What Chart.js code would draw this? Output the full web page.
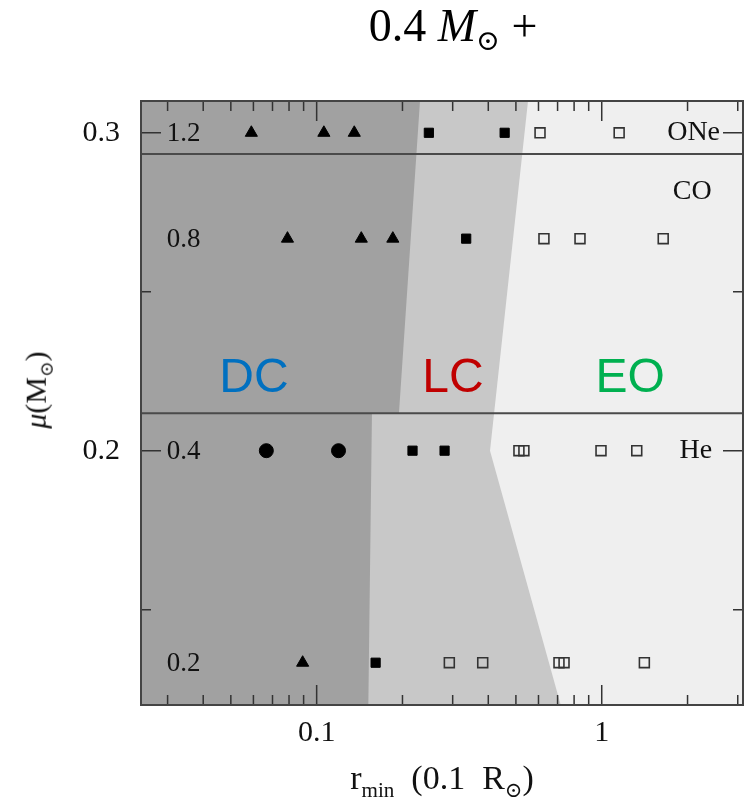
<!DOCTYPE html>
<html>
<head>
<meta charset="utf-8">
<script src="https://cdn.jsdelivr.net/npm/chart.js@4.4.1/dist/chart.umd.min.js"></script>
<style>
  body { margin: 0; background: #fff; }
  #wrap { position: relative; width: 745px; height: 805px; }
  #chart { position: absolute; left: 0; top: 0; }
  .lbl { position: absolute; font-family: 'Liberation Serif', 'DejaVu Serif', serif; color: #111; white-space: nowrap; transform: translate(-50%, -50%); }
  .lbl sub { font-size: 0.62em; vertical-align: -0.35em; }
  #title { left: 453px; top: 28px; font-size: 46px; color: #000; }
  #xTitle { left: 442px; top: 781px; font-size: 34px; }
  #yTitle { left: 38px; top: 390px; font-size: 30px; transform: translate(-50%, -50%) rotate(-90deg); }
</style>
</head>
<body>
<div id="wrap">
  <canvas id="chart" width="745" height="805"></canvas>
  <div class="lbl" id="title">0.4 <i>M</i><sub>⊙</sub> +</div>
  <div class="lbl" id="xTitle">r<sub>min</sub>&nbsp;&nbsp;(0.1&nbsp;&nbsp;R<sub>⊙</sub>)</div>
  <div class="lbl" id="yTitle"><i>μ</i>(M<sub>⊙</sub>)</div>
</div>
<script>
// axis ranges and ticks
const xMin = 0.0242, xMax = 3.13;
const yMin = 0.12, yMax = 0.31;
const xTicks = [0.03, 0.04, 0.05, 0.06, 0.07, 0.08, 0.09, 0.1, 0.2, 0.3, 0.4, 0.5, 0.6, 0.7, 0.8, 0.9, 1, 2, 3];
const xMajor = [0.1, 1];
const yTicks = [0.15, 0.2, 0.25, 0.3];
const yMajor = [0.2, 0.3];

// companion mass rows (mu in Msun)
const rowMu = [0.3, 0.2667, 0.2, 0.1333];
const rowLabels = ['1.2', '0.8', '0.4', '0.2'];
const coreLabels = ['ONe', 'CO', 'He'];
const coreLabelX = [2.6, 2.43, 2.44];
const coreLabelY = [0.3, 0.2814, 0.2];
const dividerMu = [0.2933, 0.2118];

// region boundaries
const dcX = [xMin, 0.2304, 0.1944, 0.1563, 0.1518, xMin];
const dcY = [yMax, yMax, 0.2118, 0.2118, yMin, yMin];
const lcX = [xMin, 0.5513, 0.4056, 0.718, xMin];
const lcY = [yMax, yMax, 0.2, yMin, yMin];
const regionNames = ['DC', 'LC', 'EO'];
const regionX = [0.0603, 0.3008, 1.257];
const regionY = 0.2233;
const regionColors = ['#0070c0', '#c00000', '#00b050'];

// simulation outcomes
const triX = [0.059, 0.106, 0.1355, 0.079, 0.1434, 0.185, 0.0893];
const triY = [0.3, 0.3, 0.3, 0.2667, 0.2667, 0.2667, 0.1333];
const fillSqX = [0.2475, 0.4565, 0.3346, 0.2169, 0.281, 0.161];
const fillSqY = [0.3, 0.3, 0.2667, 0.2, 0.2, 0.1333];
const openSqX = [0.6075, 1.151, 0.627, 0.839, 1.643, 0.5123, 0.5333, 0.994, 1.327, 0.292, 0.3824, 0.708, 0.7376, 1.411];
const openSqY = [0.3, 0.3, 0.2667, 0.2667, 0.2667, 0.2, 0.2, 0.2, 0.2, 0.1333, 0.1333, 0.1333, 0.1333, 0.1333];
const circX = [0.0666, 0.1193];
const circY = [0.2, 0.2];

const pts = (xs, ys) => xs.map((x, i) => ({ x: x, y: ys[i] }));
const serif = "'Liberation Serif', 'DejaVu Serif', serif";

const markers = (xs, ys, style, r, fill, border, bw) => ({
    data: pts(xs, ys),
    showLine: false,
    pointStyle: style,
    pointRadius: r,
    pointBackgroundColor: fill,
    pointBorderColor: border,
    pointBorderWidth: bw
});

const divider = mu => ({
    data: [{ x: xMin, y: mu }, { x: xMax, y: mu }],
    borderColor: '#4a4a4a',
    borderWidth: 2,
    pointRadius: 0
});

const region = (xs, ys, color) => ({
    data: pts(xs, ys),
    borderColor: 'rgba(0,0,0,0)',
    borderWidth: 0,
    pointRadius: 0,
    backgroundColor: color,
    fill: 'shape'
});

const frame = {
    id: 'frame',
    beforeDraw(chart) {
        const a = chart.chartArea, ctx = chart.ctx;
        ctx.save();
        ctx.fillStyle = '#efefef';
        ctx.fillRect(a.left, a.top, a.right - a.left, a.bottom - a.top);
        ctx.restore();
    },
    afterDatasetsDraw(chart) {
        const a = chart.chartArea, ctx = chart.ctx;
        const xs = chart.scales.x, ys = chart.scales.y;
        ctx.save();
        ctx.strokeStyle = '#333';
        ctx.lineWidth = 1.5;
        ctx.beginPath();
        xTicks.forEach(v => {
            const p = xs.getPixelForValue(v);
            const len = xMajor.includes(v) ? 20 : 10;
            ctx.moveTo(p, a.bottom); ctx.lineTo(p, a.bottom - len);
            ctx.moveTo(p, a.top); ctx.lineTo(p, a.top + len);
        });
        yTicks.forEach(v => {
            const p = ys.getPixelForValue(v);
            const len = yMajor.includes(v) ? 20 : 10;
            ctx.moveTo(a.left, p); ctx.lineTo(a.left + len, p);
            ctx.moveTo(a.right, p); ctx.lineTo(a.right - len, p);
        });
        ctx.stroke();
        ctx.lineWidth = 2;
        ctx.strokeStyle = '#444';
        ctx.strokeRect(a.left, a.top, a.right - a.left, a.bottom - a.top);

        ctx.fillStyle = '#111';
        ctx.textBaseline = 'middle';
        ctx.font = '27px ' + serif;
        ctx.textAlign = 'left';
        rowLabels.forEach((t, i) => {
            ctx.fillText(t, xs.getPixelForValue(0.0298), ys.getPixelForValue(rowMu[i]) + 1);
        });
        ctx.font = '28px ' + serif;
        ctx.textAlign = 'right';
        coreLabels.forEach((t, i) => {
            ctx.fillText(t, xs.getPixelForValue(coreLabelX[i]), ys.getPixelForValue(coreLabelY[i]));
        });
        ctx.font = "48px 'Liberation Sans', Arial, sans-serif";
        ctx.textAlign = 'center';
        regionNames.forEach((t, i) => {
            ctx.fillStyle = regionColors[i];
            ctx.fillText(t, xs.getPixelForValue(regionX[i]), ys.getPixelForValue(regionY) + 2);
        });
        ctx.restore();
    }
};

new Chart(document.getElementById('chart'), {
    type: 'line',
    data: {
        datasets: [
            markers(circX, circY, 'circle', 7, '#000', '#000', 1),
            markers(openSqX, openSqY, 'rect', 7, 'rgba(0,0,0,0)', '#333', 1.6),
            markers(fillSqX, fillSqY, 'rect', 6.5, '#000', '#000', 1),
            markers(triX, triY, 'triangle', 7, '#000', '#000', 1),
            divider(dividerMu[0]),
            divider(dividerMu[1]),
            region(dcX, dcY, '#a1a1a1'),
            region(lcX, lcY, '#c8c8c8')
        ]
    },
    options: {
        responsive: false,
        animation: false,
        events: [],
        layout: { autoPadding: false, padding: { top: 101, right: 2, left: 0, bottom: 0 } },
        plugins: { legend: { display: false }, tooltip: { enabled: false } },
        scales: {
            x: {
                type: 'logarithmic',
                min: xMin,
                max: xMax,
                grid: { display: false, drawTicks: false },
                border: { display: false },
                afterBuildTicks: s => { s.ticks = xTicks.map(v => ({ value: v })); },
                afterFit: s => { s.height = 100; s.paddingLeft = 0; s.paddingRight = 0; },
                ticks: {
                    autoSkip: false,
                    maxRotation: 0,
                    padding: 0,
                    color: '#111',
                    font: { family: serif, size: 30, lineHeight: 1.87 },
                    callback: v => xMajor.includes(v) ? String(v) : ''
                }
            },
            y: {
                type: 'linear',
                min: yMin,
                max: yMax,
                grid: { display: false, drawTicks: false },
                border: { display: false },
                afterBuildTicks: s => { s.ticks = yTicks.map(v => ({ value: v })); },
                afterFit: s => { s.width = 141; s.paddingTop = 0; s.paddingBottom = 0; },
                ticks: {
                    padding: 21,
                    color: '#111',
                    font: { family: serif, size: 30 },
                    callback: v => yMajor.includes(v) ? v.toFixed(1) : ''
                }
            }
        }
    },
    plugins: [frame]
});
</script>
</body>
</html>
